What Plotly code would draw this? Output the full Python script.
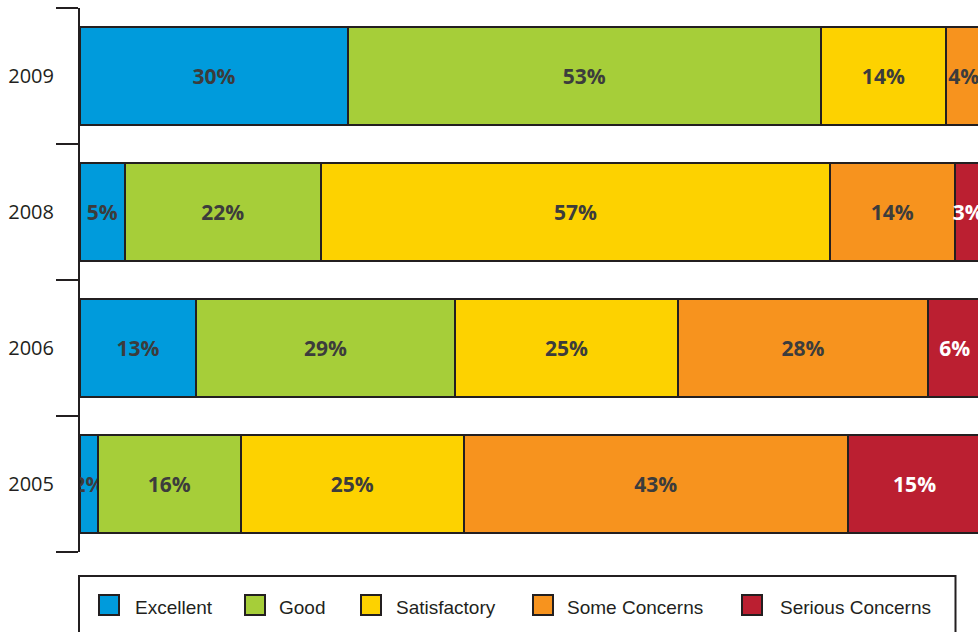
import plotly.graph_objects as go

# Survey years (bottom to top) and the share of ratings in each band, in percent
years = ["2005", "2006", "2008", "2009"]
ratings = ["Excellent", "Good", "Satisfactory", "Some Concerns", "Serious Concerns"]
excellent = [2, 13, 5, 30]
good = [16, 29, 22, 53]
satisfactory = [25, 25, 57, 14]
some_concerns = [43, 28, 14, 4]
serious_concerns = [15, 6, 3, 0]

series = [excellent, good, satisfactory, some_concerns, serious_concerns]
colors = ["#009bdc", "#a6ce39", "#fdd200", "#f7931e", "#bb1f31"]
label_colors = ["#3c3c3c", "#3c3c3c", "#3c3c3c", "#3c3c3c", "#ffffff"]

W, H = 978, 632
ML, MR, MT, MB = 80, 0, 8, 80
PW, PH = W - ML - MR, H - MT - MB
INK = "#231f20"

fig = go.Figure()
for name, vals, col, lc in zip(ratings, series, colors, label_colors):
    fig.add_trace(go.Bar(
        y=years, x=vals, name=name, orientation="h",
        marker=dict(color=col, line=dict(color=INK, width=2)),
        text=[f"{v}%" if v > 0 else "" for v in vals],
        textposition="inside", insidetextanchor="middle",
        constraintext="none", textangle=0,
        textfont=dict(family="Open Sans", size=21, color=lc, weight="bold"),
        showlegend=False, hoverinfo="skip",
    ))


def px_x(p):
    return (p - ML) / PW


def px_y(p):
    return (H - MB - p) / PH


# Legend frame and entries
shapes = [dict(type="rect", xref="paper", yref="paper",
               x0=px_x(79), x1=px_x(955.5), y0=px_y(576), y1=px_y(660),
               line=dict(color=INK, width=2), fillcolor="rgba(0,0,0,0)")]
annotations = []
swatch_x = [99, 245, 361, 533, 742]
text_x = [135, 279, 396, 567, 780]
for name, col, sx, tx in zip(ratings, colors, swatch_x, text_x):
    shapes.append(dict(type="rect", xref="paper", yref="paper",
                       x0=px_x(sx), x1=px_x(sx + 20), y0=px_y(615), y1=px_y(595),
                       fillcolor=col, line=dict(color=INK, width=2)))
    annotations.append(dict(xref="paper", yref="paper", x=px_x(tx - 2), y=px_y(607),
                            xanchor="left", yanchor="middle", text=name,
                            showarrow=False,
                            font=dict(family="Liberation Sans", size=19, color=INK)))

fig.update_layout(
    barmode="stack", bargap=0.285,
    width=W, height=H,
    margin=dict(l=ML, r=MR, t=MT, b=MB, pad=0),
    paper_bgcolor="white", plot_bgcolor="white",
    shapes=shapes, annotations=annotations,
    xaxis=dict(range=[0, 100.6], visible=False, fixedrange=True),
    yaxis=dict(type="category", categoryorder="array", categoryarray=years,
               range=[-0.5, 3.5], tickson="boundaries", ticks="outside",
               ticklen=22, tickwidth=2, tickcolor=INK,
               showline=True, linewidth=2, linecolor=INK,
               showgrid=False, zeroline=False, ticklabelstandoff=20,
               tickfont=dict(family="Open Sans", size=20, color=INK)),
)

fig.write_html("out.html")
